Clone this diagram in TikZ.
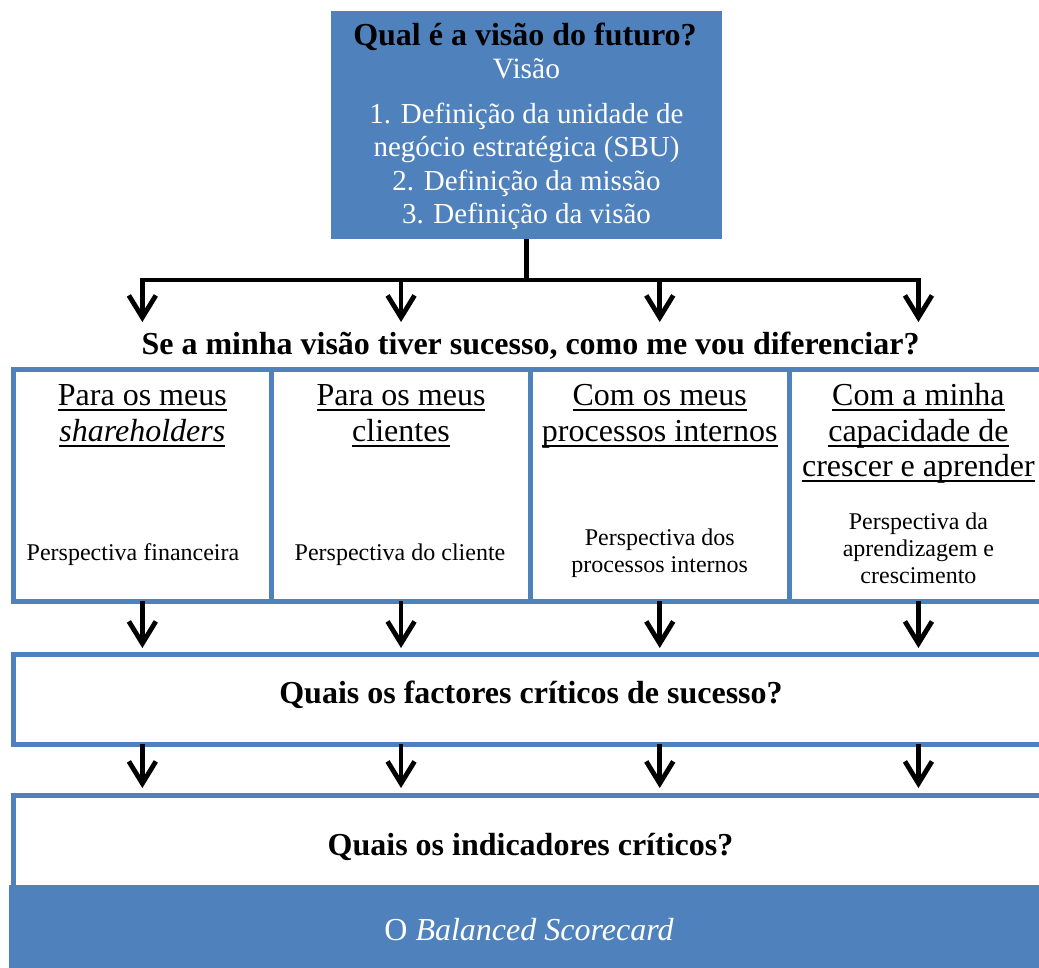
\documentclass[tikz,border=0pt]{standalone}
\usepackage{fontspec}
\setmainfont{Liberation Serif}
\usetikzlibrary{arrows.meta}
\definecolor{bsblue}{RGB}{79,129,189}
% underline at a fixed depth below the baseline
\newcommand\undl[1]{\setbox0=\hbox{#1}\rlap{\rule[-5.5pt]{\wd0}{2pt}}\box0}

\begin{document}
\begin{tikzpicture}[x=1pt,y=-1pt,
  frame/.style={draw=bsblue, line width=5pt, inner sep=0pt, outer sep=0pt},
  fillbox/.style={fill=bsblue, inner sep=0pt, outer sep=0pt},
  big/.style={font=\fontsize{32}{36}\selectfont, inner sep=0pt, anchor=base},
  bigb/.style={font=\fontsize{32}{36}\selectfont\bfseries, inner sep=0pt, anchor=base},
  list/.style={font=\fontsize{29}{33}\selectfont, text=white, inner sep=0pt, anchor=base},
  small/.style={font=\fontsize{24}{27}\selectfont, inner sep=0pt, anchor=base},
  arr/.style={line width=4.8pt, line join=miter, -{Straight Barb[length=22pt,width=27pt,sharp]}},
]
\clip (0,0) rectangle (1039,967);

% vision box
\node[fillbox, minimum width=391pt, minimum height=228pt] (vision) at (526.5,125) {};
\node[bigb] (vq) at (525,45) {Qual é a visão do futuro?};
\node[list, font=\fontsize{29.5}{33}\selectfont] (vt) at (526.5,78) {Visão};
\node[list] (v1) at (526.5,123) {1. Definição da unidade de};
\node[list] (v2) at (526.5,156) {negócio estratégica (SBU)};
\node[list] (v3) at (526.5,190) {2. Definição da missão};
\node[list] (v4) at (526.5,223) {3. Definição da visão};

% four perspective columns
\node[frame, minimum width=258.7pt, minimum height=232pt] (col1) at (142.35,485) {};
\node[frame, minimum width=258.7pt, minimum height=232pt] (col2) at (401.05,485) {};
\node[frame, minimum width=258.7pt, minimum height=232pt] (col3) at (659.75,485) {};
\node[frame, minimum width=258.7pt, minimum height=232pt] (col4) at (918.45,485) {};

% lower boxes
\node[frame, minimum width=1035pt, minimum height=90pt] (factors) at (530.5,699) {};
\node[frame, minimum width=1035pt, minimum height=180pt] (indic) at (530.5,885) {};
\node[fillbox, minimum width=1042pt, minimum height=90pt] (bsc) at (530,930) {};

% branching connector from the vision box
\coordinate (bar) at (526.5,280);
\foreach \c in {col1,col2,col3,col4}
  \draw[arr] (vision.south) |- (bar -| \c.north) -- ([yshift=47pt]\c.north);

\node[bigb] (diff) at (530.5,354) {Se a minha visão tiver sucesso, como me vou diferenciar?};

% column headings
\node[big] (h11) at (142.35,405.5) {\undl{Para os meus}};
\node[big] (h12) at (142.35,441) {\undl{\textit{shareholders}}};
\node[big] (h21) at (401.05,405.5) {\undl{Para os meus}};
\node[big] (h22) at (401.05,441) {\undl{clientes}};
\node[big] (h31) at (659.75,405.5) {\undl{Com os meus}};
\node[big] (h32) at (659.75,441) {\undl{processos internos}};
\node[big] (h41) at (918.45,405.5) {\undl{Com a minha}};
\node[big] (h42) at (918.45,441) {\undl{capacidade de}};
\node[big] (h43) at (918.45,476.5) {\undl{crescer e aprender}};

% perspective names
\node[small] (p1) at (133,560) {Perspectiva financeira};
\node[small] (p2) at (400,560) {Perspectiva do cliente};
\node[small] (p31) at (659.75,545) {Perspectiva dos};
\node[small] (p32) at (659.75,572) {processos internos};
\node[small] (p41) at (918.45,529) {Perspectiva da};
\node[small] (p42) at (918.45,556) {aprendizagem e};
\node[small] (p43) at (918.45,583) {crescimento};

% arrows down through the lower boxes
\foreach \c in {col1,col2,col3,col4} {
  \draw[arr, shorten >=6pt] (\c.south) -- (\c.south |- factors.north);
  \draw[arr, shorten >=7pt] (factors.south -| \c.south) -- (indic.north -| \c.south);
}

\node[bigb] (fq) at (531,703) {Quais os factores críticos de sucesso?};
\node[bigb] (iq) at (530.5,855) {Quais os indicadores críticos?};
\node[big, text=white] (bt) at (529,940) {O \textit{Balanced Scorecard}};
\end{tikzpicture}
\end{document}
